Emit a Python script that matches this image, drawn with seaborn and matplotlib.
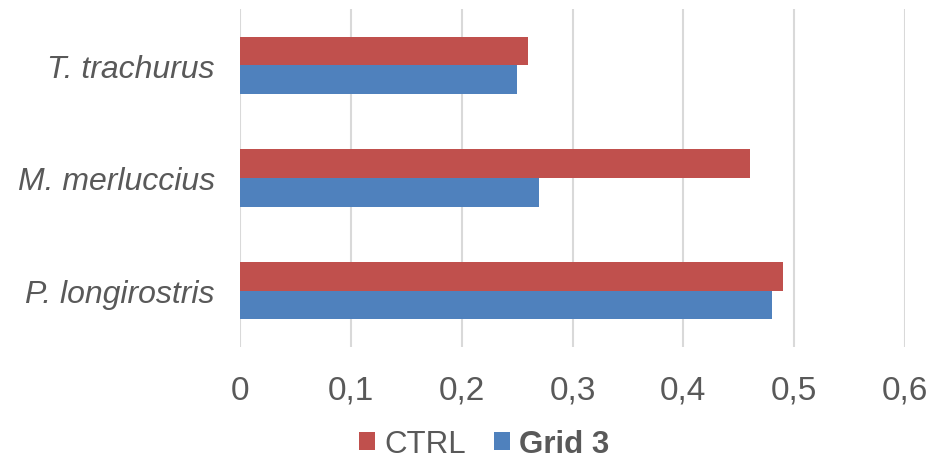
import matplotlib
matplotlib.use("Agg")
import matplotlib.pyplot as plt
import seaborn as sns
import pandas as pd

species = ["T. trachurus", "M. merluccius", "P. longirostris"]
ctrl = [0.26, 0.46, 0.49]
grid3 = [0.25, 0.27, 0.48]
series_names = ["CTRL", "Grid 3"]
x_ticks = [0, 0.1, 0.2, 0.3, 0.4, 0.5, 0.6]
x_tick_labels = ["0", "0,1", "0,2", "0,3", "0,4", "0,5", "0,6"]

df = pd.DataFrame({
    "species": species * 2,
    "value": ctrl + grid3,
    "series": [series_names[0]] * len(species) + [series_names[1]] * len(species),
})

sns.set_theme(style="white")
plt.rcParams["font.family"] = ["Liberation Sans", "DejaVu Sans"]

text_color = "#595959"
fig = plt.figure(figsize=(9.33, 4.6), dpi=100)
ax = fig.add_axes([240 / 933, 1 - 348 / 460, (905 - 240) / 933, 338 / 460])

sns.barplot(
    data=df, x="value", y="species", hue="series", orient="h",
    order=species, hue_order=series_names,
    palette=["#C0504D", "#4F81BD"], width=0.51, saturation=1,
    linewidth=0, ax=ax, legend=True,
)

ax.set_xlim(0, 0.6)
ax.set_xticks(x_ticks)
ax.set_xticklabels(x_tick_labels)
ax.set_xlabel("")
ax.set_ylabel("")
ax.grid(axis="x", color="#d9d9d9", linewidth=1.5)
ax.set_axisbelow(True)
for side in ["top", "right", "bottom", "left"]:
    ax.spines[side].set_visible(False)
ax.tick_params(axis="x", length=0, labelsize=24, labelcolor=text_color, pad=20)
ax.tick_params(axis="y", length=0, labelsize=23, labelcolor=text_color, pad=18)
for lbl in ax.get_yticklabels():
    lbl.set_fontstyle("italic")

handles, labels = ax.get_legend_handles_labels()
ax.get_legend().remove()
leg = fig.legend(
    handles, labels, loc="center", bbox_to_anchor=(484 / 933, 1 - 445 / 460),
    ncol=2, frameon=False, fontsize=22.5, handlelength=0.52, handleheight=0.52,
    handletextpad=0.28, columnspacing=0.9,
)
for t in leg.get_texts():
    t.set_color(text_color)
leg.get_texts()[1].set_fontweight("bold")

fig.savefig("out.png", dpi=100)
